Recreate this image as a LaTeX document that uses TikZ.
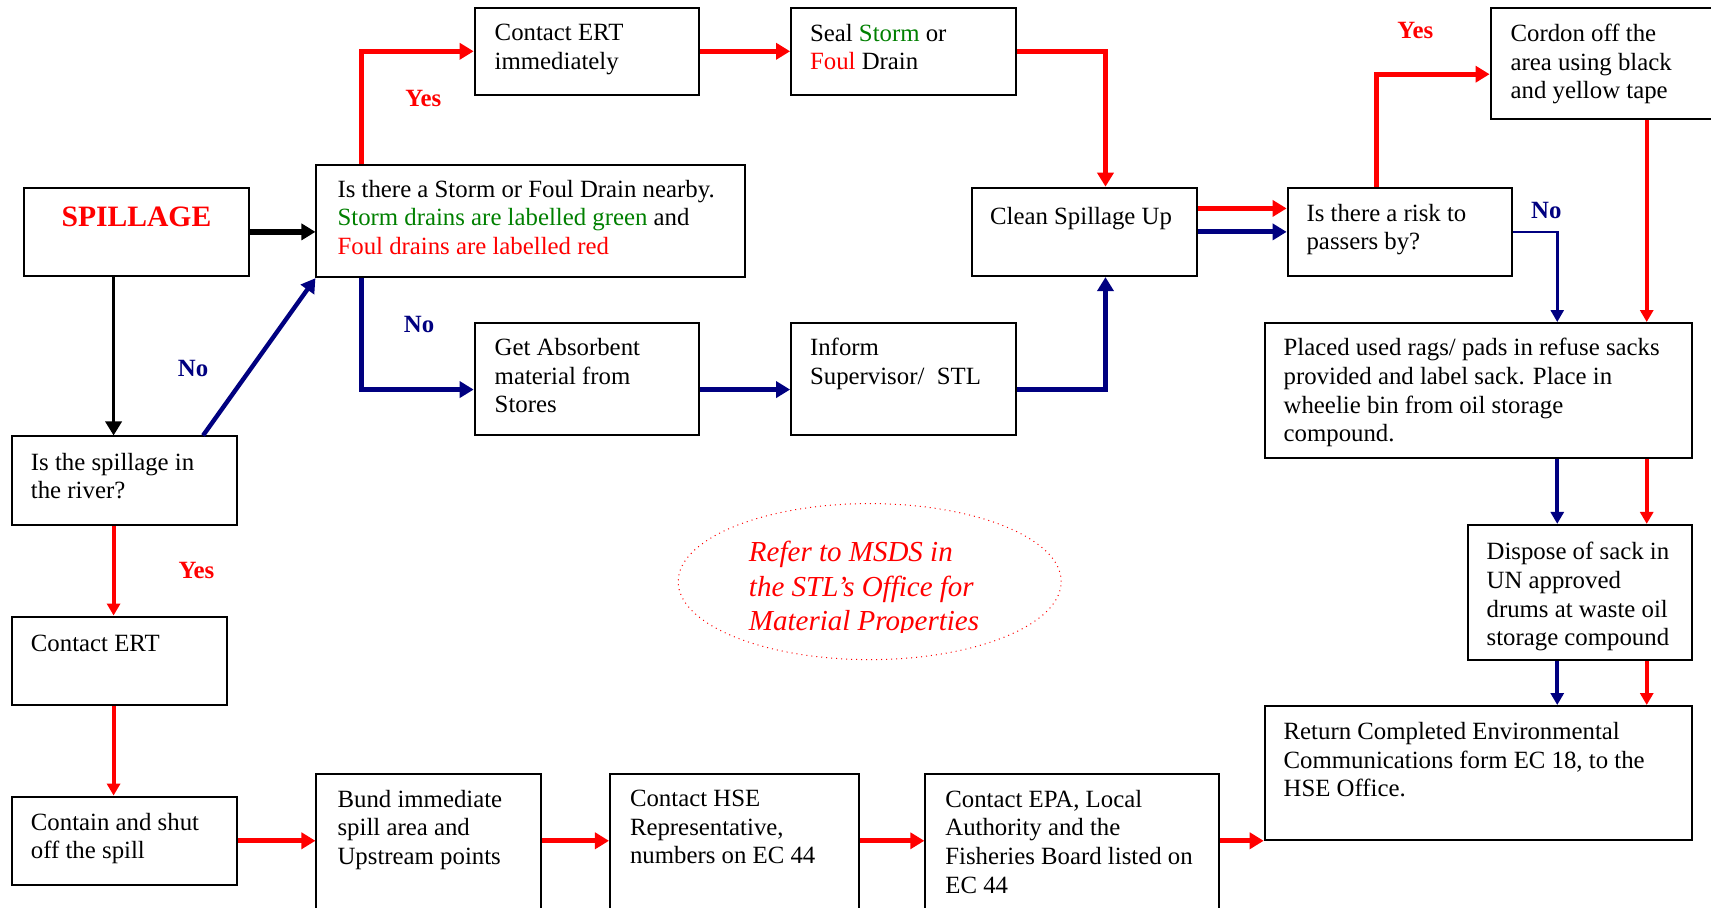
\documentclass[tikz,border=0pt]{standalone}
\usepackage{fontspec}
\setmainfont{Liberation Serif}
\usetikzlibrary{arrows.meta,fit,calc,shapes.geometric}
\definecolor{rd}{RGB}{255,0,0}
\definecolor{gn}{RGB}{0,128,0}
\definecolor{nv}{RGB}{0,0,128}
\begin{document}
\begin{tikzpicture}[x=0.5456pt,y=-0.5456pt,
  box/.style={draw=black,line width=1pt,inner sep=0pt},
  txt/.style={inner sep=0pt,align=left,font=\fontsize{12.4pt}{14.35pt}\selectfont,anchor=north west,yshift=8.4pt,execute at begin node=\strut},
  lbl/.style={inner sep=0pt,font=\fontsize{12.4pt}{14pt}\selectfont\bfseries},
  big/.style={-{Triangle[length=7pt,width=8pt]}},
  sml/.style={-{Triangle[length=6pt,width=6.5pt]}},
  redl/.style={draw=rd},
  bluel/.style={draw=nv}
]
\fill[white] (0,0) rectangle (1568,832);
\useasboundingbox (0,0) rectangle (1568,832);

% boxes
\node[box,fit={(22,172) (228,253)}] (sp) {};
\node[box,fit={(290,151) (683,254)}] (dq) {};
\node[box,fit={(435,7) (641,87)}] (ce) {};
\node[box,fit={(725,7) (931,87)}] (se) {};
\node[box,fit={(891,172) (1097,253)}] (cl) {};
\node[box,fit={(1180,172) (1386,253)}] (rk) {};
\node[box,fit={(1366,7) (1578,109)}] (co) {};
\node[box,fit={(435,296) (641,399)}] (ga) {};
\node[box,fit={(725,296) (931,399)}] (in) {};
\node[box,fit={(1159,296) (1551,420)}] (pl) {};
\node[box,fit={(11,400) (217,481)}] (rv) {};
\node[box,fit={(11,565) (208,646)}] (ct) {};
\node[box,fit={(1345,481) (1551,605)}] (dp) {};
\node[box,fit={(1159,647) (1551,770)}] (rt) {};
\node[box,fit={(11,730) (217,811)}] (cs) {};
\node[box,fit={(290,709) (496,845)}] (bd) {};
\node[box,fit={(559,709) (787,845)}] (hs) {};
\node[box,fit={(848,709) (1117,845)}] (ep) {};

% texts
\node[inner sep=0pt,anchor=base,text=rd,font=\fontsize{14.8pt}{16pt}\selectfont\bfseries] (spt) at (125,208) {SPILLAGE};
\node[txt] (dqt) at (309,180) {Is there a Storm or Foul Drain nearby.\\\textcolor{gn}{Storm drains are labelled green} and\\\textcolor{rd}{Foul drains are labelled red}};
\node[txt] (cet) at (453,37) {Contact ERT\\immediately};
\node[txt] (set) at (742,37) {Seal \textcolor{gn}{Storm} or\\\textcolor{rd}{Foul} Drain};
\node[txt] (cot) at (1384,37) {Cordon off the\\area using black\\and yellow tape};
\node[txt] (clt) at (907,202) {Clean Spillage Up};
\node[txt] (rkt) at (1197,202) {Is there a risk to\\passers by?};
\node[txt] (gat) at (453,325) {Get Absorbent\\material from\\Stores};
\node[txt] (int) at (742,325) {Inform\\Supervisor/\ \ STL};
\node[txt] (plt) at (1176,325) {Placed used rags/ pads in refuse sacks\\provided and label sack. Place in\\wheelie bin from oil storage\\compound.};
\node[txt] (rvt) at (28,430) {Is the spillage in\\the river?};
\node[txt] (ctt) at (28,594) {Contact ERT};
\node[txt] (dpt) at (1362,512) {Dispose of sack in\\UN approved\\drums at waste oil\\storage compound};
\node[txt] (rtt) at (1176,677) {Return Completed Environmental\\Communications form EC 18, to the\\HSE Office.};
\node[txt] (cst) at (28,760) {Contain and shut\\off the spill};
\node[txt] (bdt) at (309,739) {Bund immediate\\spill area and\\Upstream points};
\node[txt] (hst) at (577,739) {Contact HSE\\Representative,\\numbers on EC 44};
\node[txt] (ept) at (866,739) {Contact EPA, Local\\Authority and the\\Fisheries Board listed on\\EC 44};

% ellipse note
\node[draw=rd,dotted,line width=0.5pt,ellipse,minimum width=351*0.5456pt,minimum height=143*0.5456pt,inner sep=0pt] (el) at (797,533) {};
\begin{scope}
\clip (600,470) rectangle (1000,580);
\node[inner sep=0pt,align=left,anchor=north west,yshift=9.86pt,execute at begin node=\strut,text=rd,font=\fontsize{14.5pt}{17.2pt}\selectfont\itshape] (elt) at (686,514) {Refer to MSDS in\\the STL’s Office for\\Material Properties};
\end{scope}

% labels
\node[lbl,text=rd] (y1) at (388,90) {Yes};
\node[lbl,text=nv] (n1) at (177,338) {No};
\node[lbl,text=nv] (n2) at (384,297) {No};
\node[lbl,text=rd] (y2) at (1297,28) {Yes};
\node[lbl,text=nv] (n3) at (1417,193) {No};
\node[lbl,text=rd] (y3) at (180,523) {Yes};

% connectors
\draw[big,line width=2.7pt] (sp.east) -- (sp.east -| dq.west);
\draw[big,line width=1.7pt] ($(sp.south west)+(83,0)$) -- ($(rv.north west)+(94,0)$);
\draw[bluel,big,line width=2.2pt] ($(rv.north west)+(176,0)$) -- (dq.south west);
\draw[redl,big,line width=2.4pt] ($(dq.north west)+(42,0)$) |- (ce.west);
\draw[bluel,big,line width=2.4pt] ($(dq.south west)+(42,0)$) |- ($(ga.west)+(0,9.5)$);
\draw[redl,big,line width=2.6pt] (ce.east) -- (se.west);
\draw[redl,big,line width=2.4pt] (se.east) -| ($(cl.north west)+(123,0)$);
\draw[bluel,big,line width=2.6pt] ($(ga.east)+(0,9.5)$) -- ($(in.west)+(0,9.5)$);
\draw[bluel,big,line width=2.6pt] ($(in.east)+(0,9.5)$) -| ($(cl.south west)+(123,0)$);
\draw[redl,big,line width=2.6pt] ($(cl.east)+(0,-21.5)$) -- ($(rk.west)+(0,-21.5)$);
\draw[bluel,big,line width=2.6pt] (cl.east) -- (rk.west);
\draw[redl,big,line width=2.4pt] ($(rk.north west)+(82,0)$) |- ($(co.west)+(0,10)$);
\draw[bluel,sml,line width=1.3pt] (rk.east) -| ($(pl.north west)+(269,0)$);
\draw[redl,sml,line width=1.8pt] ($(co.south west)+(144,0)$) -- ($(pl.north west)+(351,0)$);
\draw[bluel,sml,line width=1.8pt] ($(pl.south west)+(269,0)$) -- ($(dp.north west)+(83,0)$);
\draw[redl,sml,line width=1.8pt] ($(pl.south west)+(351,0)$) -- ($(dp.north west)+(165,0)$);
\draw[bluel,sml,line width=1.8pt] ($(dp.south west)+(83,0)$) -- ($(rt.north west)+(269,0)$);
\draw[redl,sml,line width=1.8pt] ($(dp.south west)+(165,0)$) -- ($(rt.north west)+(351,0)$);
\draw[redl,sml,line width=2pt] ($(rv.south west)+(94,0)$) -- ($(ct.north west)+(94,0)$);
\draw[redl,sml,line width=2pt] ($(ct.south west)+(94,0)$) -- ($(cs.north west)+(94,0)$);
\draw[redl,big,line width=2.7pt] (cs.east) -- (cs.east -| bd.west);
\draw[redl,big,line width=2.7pt] (cs.east -| bd.east) -- (cs.east -| hs.west);
\draw[redl,big,line width=2.7pt] (cs.east -| hs.east) -- (cs.east -| ep.west);
\draw[redl,big,line width=2.7pt] (cs.east -| ep.east) -- (cs.east -| rt.west);
\end{tikzpicture}
\end{document}
